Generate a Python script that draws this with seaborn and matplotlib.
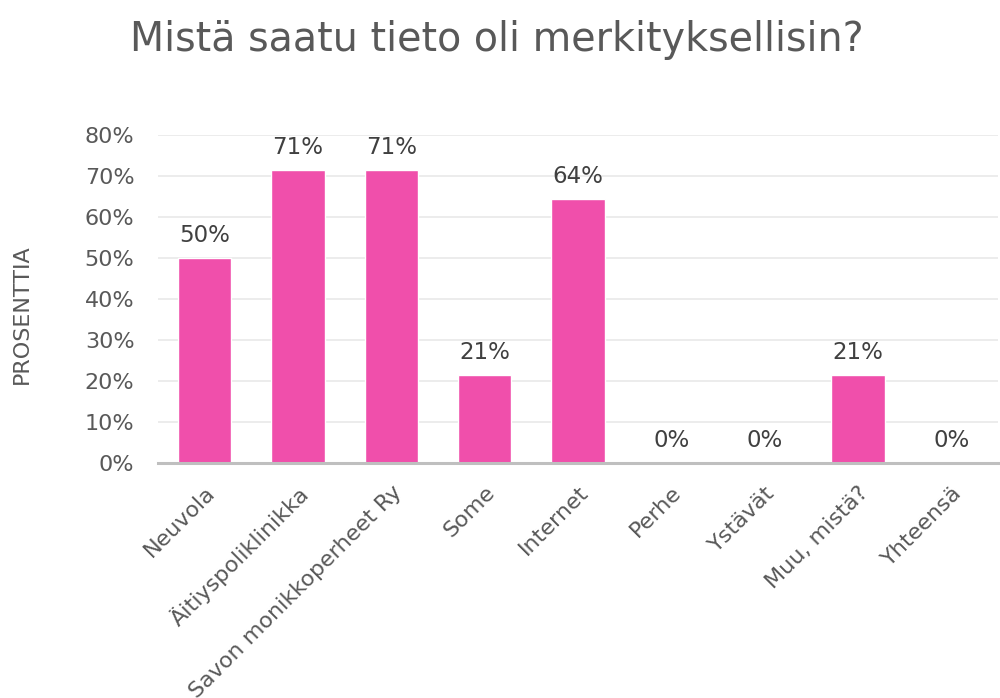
from matplotlib import pyplot as plt
from matplotlib.ticker import PercentFormatter
import pandas as pd
import seaborn as sns

categories = ['Neuvola', 'Äitiyspoliklinikka', 'Savon monikkoperheet Ry', 'Some',
              'Internet', 'Perhe', 'Ystävät', 'Muu, mistä?', 'Yhteensä']
shares = [0.50, 0.714, 0.714, 0.214, 0.643, 0.0, 0.0, 0.214, 0.0]
yticks = [0, 0.1, 0.2, 0.3, 0.4, 0.5, 0.6, 0.7, 0.8]

df = pd.DataFrame({'category': categories, 'share': shares})

sns.set_theme(style='white')
plt.rcParams['font.family'] = ['DejaVu Sans']

fig = plt.figure(figsize=(10, 6.98), dpi=100)
ax = fig.add_axes([0.158, 0.3367, 0.840, 0.470])

sns.barplot(data=df, x='category', y='share', color='#F04FAB', saturation=1,
            width=0.57, ax=ax)

ax.set_ylim(0, 0.8)
ax.set_yticks(yticks)
ax.yaxis.set_major_formatter(PercentFormatter(1.0, decimals=0))
ax.grid(axis='y', color='#EBEBEB', linewidth=1.3)
ax.set_axisbelow(True)
for side in ['top', 'right', 'left']:
    ax.spines[side].set_visible(False)
ax.spines['bottom'].set_color('#BFBFBF')
ax.spines['bottom'].set_linewidth(2.2)
ax.tick_params(axis='both', length=0, labelsize=16, colors='#595959')
ax.tick_params(axis='y', pad=17)
ax.tick_params(axis='x', pad=14)
ax.set_xlabel('')
ax.set_ylabel('')
plt.setp(ax.get_xticklabels(), rotation=45, ha='right', rotation_mode='anchor')

for i, v in enumerate(shares):
    ax.annotate(f'{v:.0%}', (i, v), xytext=(0, 8), textcoords='offset points',
                ha='center', va='bottom', fontsize=16.5, color='#404040')

fig.text(0.497, 0.942, 'Mistä saatu tieto oli merkityksellisin?', ha='center',
         va='center', fontsize=28.5, color='#595959')
fig.text(0.022, 0.55, 'PROSENTTIA', rotation=90, ha='center', va='center',
         fontsize=16, color='#595959')

fig.savefig('out.png', dpi=100)
